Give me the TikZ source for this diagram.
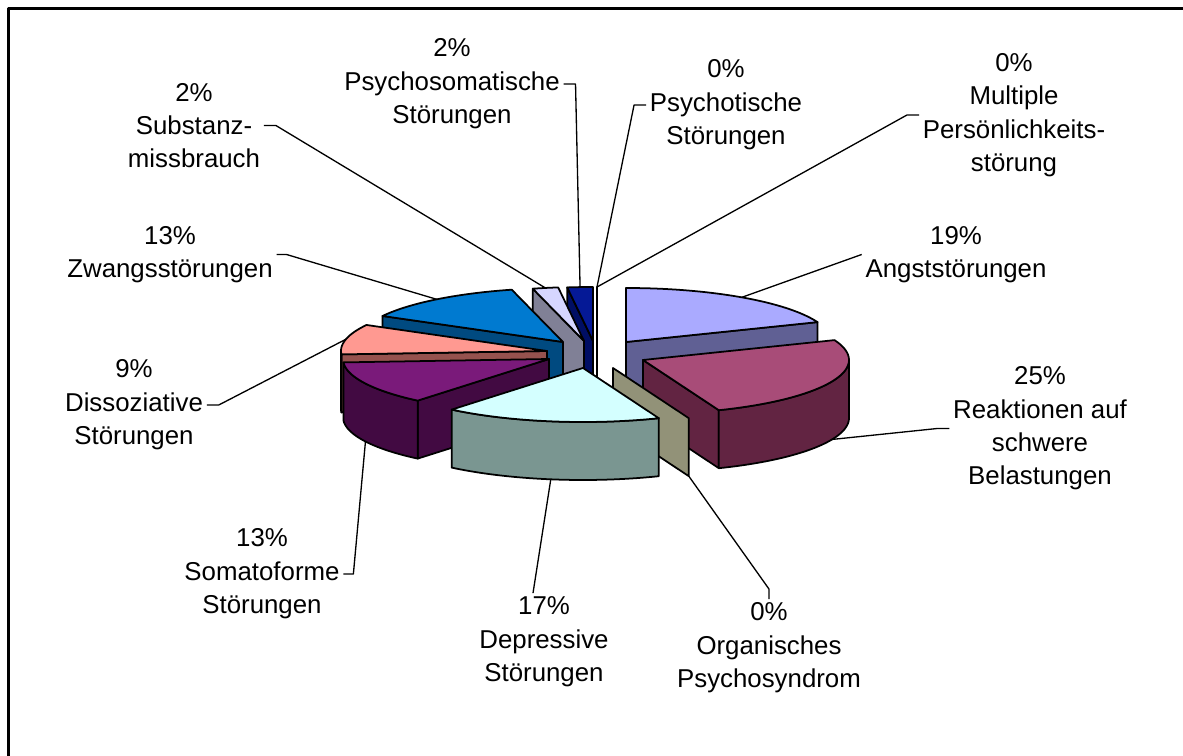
\documentclass[tikz,border=0pt]{standalone}
\usepackage{fontspec}
\setmainfont{Liberation Sans}
\usetikzlibrary{calc}

\definecolor{angstTop}{RGB}{170,170,255}
\definecolor{angstSide}{RGB}{96,96,148}
\definecolor{reakTop}{RGB}{168,76,120}
\definecolor{reakSide}{RGB}{98,36,66}
\definecolor{orgPlate}{RGB}{146,146,120}
\definecolor{deprTop}{RGB}{212,255,255}
\definecolor{deprSide}{RGB}{122,150,145}
\definecolor{somaTop}{RGB}{122,26,122}
\definecolor{somaSide}{RGB}{66,10,66}
\definecolor{dissTop}{RGB}{255,153,145}
\definecolor{dissSide}{RGB}{150,82,78}
\definecolor{zwangTop}{RGB}{0,122,208}
\definecolor{zwangSide}{RGB}{0,74,128}
\definecolor{substTop}{RGB}{214,214,255}
\definecolor{substSide}{RGB}{128,128,150}
\definecolor{psomTop}{RGB}{5,25,150}
\definecolor{psomSide}{RGB}{0,14,100}

% pie radii and height (pixels)
\def\prx{206}
\def\pry{54}
\def\pth{58}

% top face of a slice
\newcommand\pietop[3]{%
  \filldraw[slice,#1] (0,0)
    -- plot[domain=#2:#3,samples=40,variable=\t] ({\prx*sin(\t)},{-\pry*cos(\t)})
    -- cycle;}
% cut face along one radius
\newcommand\piewall[2]{%
  \filldraw[slice,#1] (0,0) -- ({\prx*sin(#2)},{-\pry*cos(#2)})
    -- ++(0,\pth) -- (0,\pth) -- cycle;}
% outer rim
\newcommand\pierim[3]{%
  \filldraw[slice,#1]
    plot[domain=#2:#3,samples=40,variable=\t] ({\prx*sin(\t)},{-\pry*cos(\t)})
    -- plot[domain=#3:#2,samples=40,variable=\t] ({\prx*sin(\t)},{\pth-\pry*cos(\t)})
    -- cycle;}

\begin{document}
\begin{tikzpicture}[
    x=0.02cm, y=-0.02cm,
    line join=round,
    slice/.style={draw=black, line width=1pt},
    leader/.style={draw=black, line width=0.75pt},
    lbl/.style={font=\fontsize{14.7}{19}\selectfont, align=center, inner sep=2pt}
]
  \useasboundingbox (0,0) rectangle (1183,756);
  \fill[white] (0,0) rectangle (1183,756);
  \draw[line width=1.2pt] (8.5,756) |- (1183,8.5);

  % Psychotische / Multiple (0%)
  \begin{scope}[shift={(597,341)}]
    \piewall{fill=white}{360}
    \coordinate (psyt-pt) at ({\prx*sin(360)},{-\pry*cos(360)});
  \end{scope}
  % Psychosomatische
  \begin{scope}[shift={(593,341)}]
    \piewall{fill=psomSide}{352.8}
    \pietop{fill=psomTop}{352.8}{360}
    \coordinate (psom-pt) at ({\prx*sin(356.4)},{-\pry*cos(356.4)});
  \end{scope}
  % Substanzmissbrauch
  \begin{scope}[shift={(584,341)}]
    \piewall{fill=substSide}{345.6}
    \pietop{fill=substTop}{345.6}{352.8}
    \coordinate (subst-pt) at ({\prx*sin(349.2)},{-\pry*cos(349.2)});
  \end{scope}
  % Zwangsstoerungen
  \begin{scope}[shift={(563,342)}]
    \piewall{fill=zwangSide}{298.8}
    \pietop{fill=zwangTop}{298.8}{345.6}
    \coordinate (zwang-pt) at ({\prx*sin(322.2)},{-\pry*cos(322.2)});
  \end{scope}
  % Angststoerungen
  \begin{scope}[shift={(626,342)}]
    \piewall{fill=angstSide}{68.4}
    \pietop{fill=angstTop}{0}{68.4}
    \coordinate (angst-pt) at ({\prx*sin(34.2)},{-\pry*cos(34.2)});
  \end{scope}
  % Dissoziative
  \begin{scope}[shift={(547,351)}]
    \piewall{fill=dissSide}{266.4}
    \pierim{fill=dissSide}{266.4}{270}
    \pietop{fill=dissTop}{266.4}{298.8}
    \coordinate (diss-pt) at ({\prx*sin(282.6)},{-\pry*cos(282.6)});
  \end{scope}
  % Reaktionen
  \begin{scope}[shift={(643,360)}]
    \piewall{fill=reakSide}{158.4}
    \pierim{fill=reakSide}{90}{158.4}
    \pietop{fill=reakTop}{68.4}{158.4}
    \coordinate (reak-pt) at ({\prx*sin(113.4)},{\pth-\pry*cos(113.4)});
  \end{scope}
  % Organisches (0%)
  \begin{scope}[shift={(613,368)}]
    \piewall{fill=orgPlate}{158.4}
    \coordinate (org-pt) at ({\prx*sin(158.4)},{\pth-\pry*cos(158.4)});
  \end{scope}
  % Somatoforme
  \begin{scope}[shift={(549,359)}]
    \piewall{fill=somaSide}{219.6}
    \pierim{fill=somaSide}{219.6}{266.4}
    \pietop{fill=somaTop}{219.6}{266.4}
    \coordinate (soma-pt) at ({\prx*sin(243)},{\pth-\pry*cos(243)});
  \end{scope}
  % Depressive
  \begin{scope}[shift={(583,368)}]
    \pierim{fill=deprSide}{158.4}{219.6}
    \pietop{fill=deprTop}{158.4}{219.6}
    \coordinate (depr-pt) at ({\prx*sin(189)},{\pth-\pry*cos(189)});
  \end{scope}

  % labels
  \node[lbl] (subst) at (194,125.5) {2\%\\Substanz-\\missbrauch};
  \node[lbl] (psom) at (452,84) {2\%\\Psychosomatische\\Störungen};
  \node[lbl] (psyt) at (726,105) {0\%\\Psychotische\\Störungen};
  \node[lbl] (mult) at (1014,115) {0\%\\Multiple\\Persönlichkeits-\\störung};
  \node[lbl] (angst) at (956,254.5) {19\%\\Angststörungen};
  \node[lbl] (reak) at (1040,428.5) {25\%\\Reaktionen auf\\schwere\\Belastungen};
  \node[lbl] (org) at (769,648) {0\%\\Organisches\\Psychosyndrom};
  \node[lbl] (depr) at (544,642) {17\%\\Depressive\\Störungen};
  \node[lbl] (soma) at (262,574) {13\%\\Somatoforme\\Störungen};
  \node[lbl] (diss) at (134,405) {9\%\\Dissoziative\\Störungen};
  \node[lbl] (zwang) at (170,254.5) {13\%\\Zwangsstörungen};

  % leader lines
  \draw[leader] (subst.east) -- ++(12,0) -- (subst-pt);
  \draw[leader] (psom.east) -- ++(12,0) -- (psom-pt);
  \draw[leader] (psyt.west) -- ++(-12,0) -- (psyt-pt);
  \draw[leader] (mult.west) -- ++(-12,0) -- (psyt-pt);
  \draw[leader] (angst.west) -- (angst-pt);
  \draw[leader] (reak.west) -- ++(-12,0) -- (reak-pt);
  \draw[leader] (org.north) -- ++(0,-10) -- (org-pt);
  \draw[leader] ($(depr.north)+(-11,0)$) -- (depr-pt);
  \draw[leader] (soma.east) -- ++(10,0) -- (soma-pt);
  \draw[leader] (diss.east) -- ++(12,0) -- (diss-pt);
  \draw[leader] (zwang.east) -- ++(10,0) -- (zwang-pt);
\end{tikzpicture}
\end{document}
